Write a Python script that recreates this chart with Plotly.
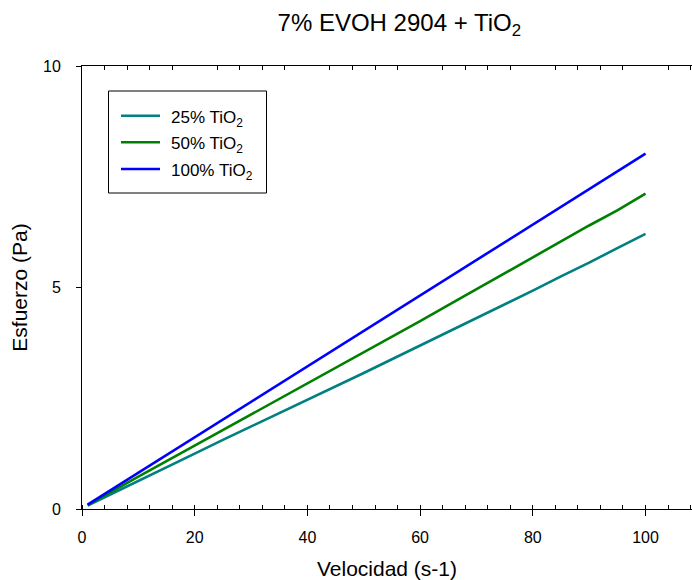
import plotly.graph_objects as go

velocidad = [1, 5, 10, 15, 20, 25, 30, 35, 40, 45, 50, 55, 60, 65, 70, 75, 80, 85, 90, 95, 100]
tio2_25 = [0.08, 0.33, 0.64, 0.95, 1.25, 1.56, 1.86, 2.16, 2.47, 2.77, 3.07, 3.38, 3.69, 3.99, 4.31, 4.61, 4.93, 5.25, 5.56, 5.89, 6.21]
tio2_50 = [0.09, 0.38, 0.73, 1.08, 1.43, 1.78, 2.13, 2.48, 2.83, 3.18, 3.53, 3.89, 4.24, 4.60, 4.96, 5.32, 5.68, 6.04, 6.40, 6.74, 7.12]
tio2_100 = [0.10, 0.42, 0.82, 1.22, 1.62, 2.02, 2.42, 2.82, 3.22, 3.62, 4.02, 4.42, 4.82, 5.22, 5.62, 6.02, 6.42, 6.82, 7.22, 7.62, 8.02]

names = ["25% TiO<sub>2</sub>", "50% TiO<sub>2</sub>", "100% TiO<sub>2</sub>"]
colors = ["#008080", "#008000", "#0000FF"]
series = [tio2_25, tio2_50, tio2_100]

FONT = "Liberation Sans, Arial, sans-serif"
W, H = 692, 580
ML, MR, MT, MB = 82, 0, 66, 71
PW, PH = W - ML - MR, H - MT - MB


def px(xp):
    return (xp - ML) / PW


def py(yp):
    return (H - MB - yp) / PH


fig = go.Figure()
for name, col, ys in zip(names, colors, series):
    fig.add_trace(go.Scatter(x=velocidad, y=ys, mode="lines", name=name,
                             line=dict(color=col, width=2.6), showlegend=False))
# invisible trace to anchor the top axis
fig.add_trace(go.Scatter(x=[0], y=[0], xaxis="x2", mode="markers",
                         marker=dict(opacity=0), showlegend=False, hoverinfo="skip"))

# legend box drawn with shapes + annotations
shapes = [dict(type="rect", xref="paper", yref="paper",
               x0=px(108.5), x1=px(266.5), y0=py(193), y1=py(91),
               line=dict(color="black", width=1), fillcolor="white", layer="above")]
annotations = []
row_y = [115.7, 142.3, 169.0]
for name, col, ry in zip(names, colors, row_y):
    shapes.append(dict(type="line", xref="paper", yref="paper",
                       x0=px(121), x1=px(160), y0=py(ry), y1=py(ry),
                       line=dict(color=col, width=2.6), layer="above"))
    annotations.append(dict(text=name, xref="paper", yref="paper",
                            x=px(169), y=py(ry), xanchor="left", yanchor="middle",
                            yshift=-3, showarrow=False,
                            font=dict(size=17, family=FONT, color="black")))

XMAX = 108.25
fig.update_layout(
    width=W, height=H,
    margin=dict(l=ML, r=MR, t=MT, b=MB),
    paper_bgcolor="white", plot_bgcolor="white",
    font=dict(family=FONT, color="black", size=16),
    title=dict(text="7% EVOH 2904 + TiO<sub>2</sub>", font=dict(size=24),
               x=0.577, xanchor="center", y=0.961, yanchor="middle"),
    xaxis=dict(range=[0, XMAX], showgrid=False, zeroline=False,
               showline=True, linecolor="black", linewidth=1,
               ticks="outside", ticklen=6, tickcolor="black", dtick=20, tick0=0,
               tickfont=dict(size=16), ticklabelstandoff=8,
               minor=dict(ticks="inside", ticklen=4, dtick=4, tickcolor="black"),
               title=dict(text="Velocidad (s-1)", font=dict(size=21), standoff=16)),
    xaxis2=dict(range=[0, XMAX], overlaying="x", side="top", anchor="y",
                showgrid=False, zeroline=False, showline=True, linecolor="black",
                linewidth=1, ticks="", dtick=20, tick0=0, showticklabels=False,
                minor=dict(ticks="inside", ticklen=4, dtick=4, tickcolor="black")),
    yaxis=dict(range=[0, 10], showgrid=False, zeroline=False,
               showline=True, linecolor="black", linewidth=1,
               ticks="outside", ticklen=5, tickcolor="black", dtick=5, tick0=0,
               tickfont=dict(size=16), ticklabelstandoff=12,
               title=dict(text="Esfuerzo (Pa)", font=dict(size=21), standoff=9)),
    shapes=shapes,
    annotations=annotations,
    showlegend=False,
)

fig.write_html("out.html", config={"displayModeBar": False},
               post_script="document.body.style.margin='0';")
